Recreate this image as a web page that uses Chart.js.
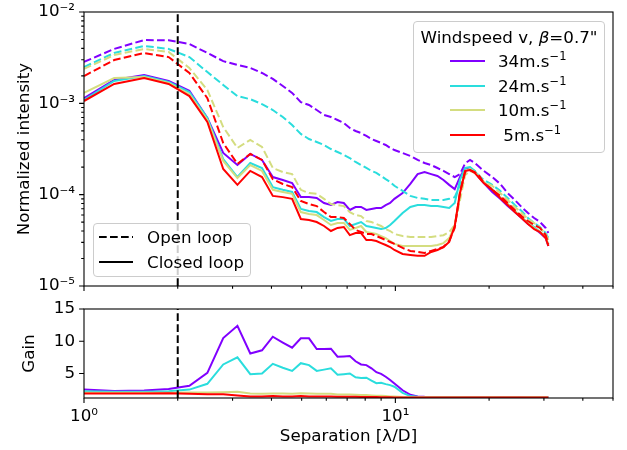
<!DOCTYPE html>
<html>
<head>
<meta charset="utf-8">
<script src="https://cdn.jsdelivr.net/npm/chart.js@4.4.0/dist/chart.umd.min.js"></script>
<style>
  body { margin: 0; background: #fff; font-family: 'DejaVu Sans', sans-serif; }
  #wrap { position: relative; width: 627px; height: 450px; overflow: hidden; }
  canvas { position: absolute; left: 0; }
  .legend { position: absolute; background: rgba(255,255,255,0.8); border: 1px solid #ccc; border-radius: 4px; box-sizing: border-box; font-size: 16.7px; color: #000; }
  .entry { position: absolute; left: 0; height: 20px; line-height: 20px; white-space: nowrap; width: 100%; }
  .entry svg { position: absolute; top: 0; }
  .entry .txt { position: absolute; top: 0; }
  sup { font-size: 11.5px; vertical-align: 7px; line-height: 0; }
</style>
</head>
<body>
<div id="wrap">
  <canvas id="intensity" width="627" height="300" style="top:0"></canvas>
  <canvas id="gain" width="627" height="155" style="top:295px"></canvas>
  <div class="legend" id="windLegend" style="left:413px; top:21px; width:192px; height:132px;">
    <div style="position:absolute; left:0; width:100%; top:5px; text-align:center; line-height:20px;">Windspeed v, <i>β</i>=0.7"</div>
  </div>
  <div class="legend" id="loopLegend" style="left:93px; top:223px; width:158px; height:54px;"></div>
</div>
<script>
// separation in lambda/D
const separation = [1.0, 1.25, 1.56, 1.87, 2.18, 2.49, 2.80, 3.11, 3.42, 3.73,
  4.04, 4.35, 4.66, 4.97, 5.28, 5.59, 5.90, 6.21, 6.52, 6.83,
  7.14, 7.45, 7.76, 8.07, 8.38, 8.69, 9.00, 9.31, 9.62, 9.93,
  10.55, 11.17, 11.79, 12.41, 13.03, 13.65, 14.27, 14.89, 15.51, 16.13,
  16.75, 17.37, 17.99, 18.61, 19.23,
  20.47, 21.71, 22.95, 24.19, 25.43, 26.67, 27.91, 29.15, 30.39, 31.0];

// open loop (dashed)
const open34 = [2.84e-3, 3.94e-3, 4.93e-3, 4.9e-3, 4.47e-3, 3.56e-3, 2.9e-3, 2.63e-3, 2.44e-3, 2.15e-3,
  1.85e-3, 1.55e-3, 1.3e-3, 1.03e-3, 9.6e-4, 8.45e-4, 7.45e-4, 7.08e-4, 6.57e-4, 6.1e-4,
  5.37e-4, 4.98e-4, 4.73e-4, 4.39e-4, 4.07e-4, 3.87e-4, 3.68e-4, 3.5e-4, 3.25e-4, 3.08e-4,
  2.86e-4, 2.65e-4, 2.4e-4, 2.22e-4, 2.11e-4, 1.96e-4, 1.82e-4, 1.68e-4, 1.56e-4, 1.68e-4,
  2.2e-4, 2.4e-4, 2.22e-4, 2.01e-4, 1.82e-4,
  1.56e-4, 1.31e-4, 1.04e-4, 8.75e-5, 7.33e-5, 6.3e-5, 5.55e-5, 5.02e-5, 4.32e-5, 3.8e-5];
const open24 = [2.5e-3, 3.56e-3, 4.25e-3, 3.94e-3, 3.21e-3, 2.2e-3, 1.59e-3, 1.2e-3, 1.11e-3, 9.8e-4,
  8.45e-4, 7.08e-4, 5.79e-4, 4.62e-4, 4.07e-4, 3.77e-4, 3.5e-4, 3.16e-4, 2.93e-4, 2.72e-4,
  2.52e-4, 2.28e-4, 2.11e-4, 1.96e-4, 1.82e-4, 1.73e-4, 1.6e-4, 1.48e-4, 1.38e-4, 1.25e-4,
  1.1e-4, 9.7e-5, 9.2e-5, 9.0e-5, 8.75e-5, 8.75e-5, 8.75e-5, 9.0e-5, 9.4e-5, 1.28e-4,
  1.77e-4, 1.91e-4, 1.82e-4, 1.6e-4, 1.45e-4,
  1.28e-4, 1.1e-4, 9.2e-5, 7.7e-5, 6.62e-5, 5.55e-5, 4.9e-5, 4.43e-5, 3.8e-5, 3.35e-5];
const open10 = [2.38e-3, 3.38e-3, 3.94e-3, 3.65e-3, 2.44e-3, 1.4e-3, 5.5e-4, 3.25e-4, 3.97e-4, 3.33e-4,
  1.96e-4, 1.77e-4, 1.68e-4, 1.13e-4, 1.04e-4, 1.02e-4, 9.0e-5, 7.9e-5, 7.7e-5, 7.5e-5,
  6.45e-5, 5.98e-5, 5.83e-5, 5.15e-5, 5.02e-5, 4.77e-5, 4.54e-5, 4.2e-5, 4.0e-5, 3.71e-5,
  3.52e-5, 3.44e-5, 3.44e-5, 3.44e-5, 3.44e-5, 3.52e-5, 3.6e-5, 3.9e-5, 4.66e-5, 8.75e-5,
  1.64e-4, 1.82e-4, 1.73e-4, 1.52e-4, 1.38e-4,
  1.25e-4, 1.04e-4, 8.75e-5, 7.33e-5, 6.3e-5, 5.42e-5, 4.9e-5, 4.32e-5, 3.71e-5, 3.19e-5];
const open5 = [1.99e-3, 2.98e-3, 3.56e-3, 3.21e-3, 2.15e-3, 1.14e-3, 3.68e-4, 2.17e-4, 2.79e-4, 2.4e-4,
  1.48e-4, 1.31e-4, 1.21e-4, 8.53e-5, 7.9e-5, 7.5e-5, 6.45e-5, 5.69e-5, 5.69e-5, 5.55e-5,
  4.77e-5, 4.11e-5, 3.9e-5, 3.71e-5, 3.71e-5, 3.52e-5, 3.35e-5, 3.19e-5, 3.03e-5, 2.89e-5,
  2.61e-5, 2.42e-5, 2.36e-5, 2.3e-5, 2.42e-5, 2.54e-5, 2.67e-5, 3.11e-5, 4.32e-5, 1.07e-4,
  1.77e-4, 1.86e-4, 1.77e-4, 1.6e-4, 1.34e-4,
  1.13e-4, 9.7e-5, 8.1e-5, 6.8e-5, 5.83e-5, 5.15e-5, 4.66e-5, 4.32e-5, 3.61e-5, 2.89e-5];

// closed loop (solid)
const closed34 = [1.14e-3, 1.8e-3, 2.04e-3, 1.76e-3, 1.37e-3, 6.9e-4, 2.86e-4, 2.11e-4, 2.79e-4, 2.4e-4,
  1.56e-4, 1.45e-4, 1.34e-4, 9.4e-5, 9.4e-5, 9.2e-5, 8.1e-5, 7.7e-5, 8.3e-5, 8.1e-5,
  6.8e-5, 7.33e-5, 7.33e-5, 6.8e-5, 6.97e-5, 7.15e-5, 7.15e-5, 7.7e-5, 8.1e-5, 9.0e-5,
  1.04e-4, 1.31e-4, 1.68e-4, 1.77e-4, 1.68e-4, 1.6e-4, 1.45e-4, 1.28e-4, 1.15e-4, 1.56e-4,
  1.96e-4, 1.96e-4, 1.77e-4, 1.52e-4, 1.34e-4,
  1.07e-4, 9.0e-5, 7.5e-5, 6.45e-5, 5.55e-5, 4.77e-5, 4.32e-5, 3.8e-5, 3.35e-5, 2.74e-5];
const closed24 = [1.09e-3, 1.76e-3, 1.99e-3, 1.71e-3, 1.33e-3, 6.9e-4, 2.45e-4, 1.56e-4, 2.22e-4, 1.96e-4,
  1.21e-4, 1.13e-4, 1.07e-4, 6.97e-5, 6.62e-5, 6.45e-5, 5.69e-5, 5.15e-5, 5.42e-5, 5.42e-5,
  4.54e-5, 4.77e-5, 5.02e-5, 4.54e-5, 4.43e-5, 4.32e-5, 4.2e-5, 4.32e-5, 4.66e-5, 5.15e-5,
  6.3e-5, 7.33e-5, 7.7e-5, 7.7e-5, 7.5e-5, 7.5e-5, 7.33e-5, 7.15e-5, 8.1e-5, 1.45e-4,
  1.96e-4, 2.01e-4, 1.82e-4, 1.56e-4, 1.38e-4,
  1.15e-4, 9.4e-5, 7.9e-5, 6.62e-5, 5.69e-5, 4.9e-5, 4.43e-5, 3.9e-5, 3.44e-5, 2.81e-5];
const closed10 = [1.3e-3, 1.89e-3, 1.94e-3, 1.67e-3, 1.26e-3, 6.57e-4, 2.34e-4, 1.52e-4, 2.11e-4, 1.82e-4,
  1.13e-4, 1.07e-4, 1.02e-4, 6.45e-5, 6.14e-5, 5.98e-5, 5.28e-5, 4.66e-5, 4.9e-5, 4.9e-5,
  4.11e-5, 4.32e-5, 4.54e-5, 3.9e-5, 3.8e-5, 3.71e-5, 3.52e-5, 3.35e-5, 3.11e-5, 2.89e-5,
  2.74e-5, 2.74e-5, 2.74e-5, 2.74e-5, 2.74e-5, 2.81e-5, 2.95e-5, 3.35e-5, 4.54e-5, 1.07e-4,
  1.82e-4, 1.91e-4, 1.77e-4, 1.56e-4, 1.38e-4,
  1.15e-4, 9.4e-5, 7.9e-5, 6.62e-5, 5.69e-5, 4.9e-5, 4.32e-5, 3.9e-5, 3.44e-5, 2.81e-5];
const closed5 = [1.06e-3, 1.63e-3, 1.89e-3, 1.63e-3, 1.2e-3, 6.25e-4, 1.91e-4, 1.28e-4, 1.82e-4, 1.56e-4,
  9.7e-5, 9.4e-5, 9.0e-5, 5.42e-5, 5.28e-5, 5.02e-5, 4.54e-5, 4.0e-5, 4.32e-5, 4.43e-5,
  3.61e-5, 3.8e-5, 3.8e-5, 3.19e-5, 3.19e-5, 3.11e-5, 2.95e-5, 2.81e-5, 2.67e-5, 2.48e-5,
  2.24e-5, 2.19e-5, 2.14e-5, 2.14e-5, 2.36e-5, 2.48e-5, 2.67e-5, 3.03e-5, 4.54e-5, 1.04e-4,
  1.82e-4, 1.86e-4, 1.73e-4, 1.52e-4, 1.34e-4,
  1.13e-4, 9.2e-5, 7.7e-5, 6.45e-5, 5.55e-5, 4.77e-5, 4.2e-5, 3.9e-5, 3.35e-5, 2.74e-5];

// gain = open / closed
const gain34 = [2.5, 2.3, 2.35, 2.6, 3.1, 5.1, 10.5, 12.4, 8.1, 8.6,
  10.7, 9.8, 9.0, 10.45, 10.45, 8.8, 8.8, 8.85, 7.6, 7.65,
  7.7, 6.9, 6.4, 6.3, 5.8, 5.2, 4.95, 4.5, 4.0, 3.45,
  2.4, 1.7, 1.45, 1.38, 1.36, 1.35, 1.35, 1.34, 1.34, 1.34,
  1.33, 1.33, 1.33, 1.33, 1.33,
  1.34, 1.34, 1.33, 1.33, 1.34, 1.34, 1.35, 1.34, 1.33, 1.33];
const gain24 = [2.25, 2.15, 2.15, 2.25, 2.5, 3.4, 6.4, 7.5, 4.9, 5.0,
  6.5, 5.9, 5.4, 6.6, 6.3, 5.4, 5.6, 5.8, 4.8, 4.9,
  5.0, 4.4, 4.3, 4.35, 3.9, 3.5, 3.55, 3.35, 3.2, 2.95,
  2.0, 1.5, 1.38, 1.36, 1.35, 1.35, 1.34, 1.34, 1.34, 1.34,
  1.33, 1.33, 1.33, 1.33, 1.33,
  1.34, 1.33, 1.33, 1.33, 1.33, 1.34, 1.34, 1.34, 1.33, 1.33];
const gain10 = [2.0, 2.0, 2.0, 2.0, 2.05, 2.05, 2.1, 2.15, 1.9, 1.85,
  1.9, 1.9, 1.85, 1.95, 1.9, 1.85, 1.85, 1.85, 1.75, 1.75,
  1.75, 1.7, 1.65, 1.65, 1.6, 1.55, 1.55, 1.5, 1.45, 1.42,
  1.35, 1.33, 1.32, 1.3, 1.3, 1.3, 1.3, 1.3, 1.3, 1.3,
  1.3, 1.3, 1.3, 1.3, 1.3,
  1.3, 1.3, 1.3, 1.3, 1.3, 1.3, 1.3, 1.3, 1.3, 1.3];
const gain5 = [1.9, 1.9, 1.9, 1.95, 1.85, 1.8, 1.8, 1.6, 1.45, 1.45,
  1.5, 1.45, 1.45, 1.5, 1.45, 1.45, 1.45, 1.45, 1.4, 1.4,
  1.38, 1.38, 1.36, 1.36, 1.35, 1.35, 1.33, 1.33, 1.3, 1.28,
  1.27, 1.27, 1.27, 1.27, 1.27, 1.27, 1.27, 1.27, 1.27, 1.27,
  1.27, 1.27, 1.27, 1.27, 1.27,
  1.27, 1.27, 1.27, 1.27, 1.27, 1.27, 1.27, 1.27, 1.27, 1.27];

const windLabels = ['34', '24', '10', '\u00a05'];
const windColors = ['#8000ff', '#2adddd', '#d4dd80', '#ff0000'];
const openSeries = [open34, open24, open10, open5];
const closedSeries = [closed34, closed24, closed10, closed5];
const gainSeries = [gain34, gain24, gain10, gain5];

const intensityDecades = [1e-5, 1e-4, 1e-3, 1e-2];
const gainTicks = [5, 10, 15];
const separationDecades = [1, 10];
const controlRadius = 2;

const FONT = { family: 'DejaVu Sans', size: 16.7 };
const DASH = [7.7, 3.3];
const supChars = { '-': '\u207b', '0': '\u2070', '1': '\u00b9', '2': '\u00b2', '3': '\u00b3', '4': '\u2074', '5': '\u2075' };

function powerLabel(v) {
  const e = String(Math.round(Math.log10(v)));
  return '10' + e.split('').map(c => supChars[c]).join('');
}

function toPoints(values) {
  return values.map((y, i) => ({ x: separation[i], y: y }));
}

function minorTicks(lo, hi) {
  const out = [];
  for (let d = lo; d < hi; d *= 10) {
    for (let k = 2; k <= 9; k++) {
      if (k * d < hi) out.push(k * d);
    }
  }
  return out;
}

// frame + outward tick marks like matplotlib
const axisMarks = {
  id: 'axisMarks',
  afterDraw(chart, args, opts) {
    const { ctx, chartArea: a, scales } = chart;
    ctx.save();
    ctx.strokeStyle = '#000';
    ctx.lineWidth = 1.1;
    ctx.beginPath();
    opts.x.forEach(([v, len]) => {
      const px = scales.x.getPixelForValue(v);
      ctx.moveTo(px, a.bottom);
      ctx.lineTo(px, a.bottom + len);
    });
    opts.y.forEach(([v, len]) => {
      const py = scales.y.getPixelForValue(v);
      ctx.moveTo(a.left, py);
      ctx.lineTo(a.left - len, py);
    });
    ctx.stroke();
    ctx.strokeRect(a.left, a.top, a.right - a.left, a.bottom - a.top);
    ctx.restore();
  }
};

const xMin = 1, xMax = 50;
const xMarks = separationDecades.map(v => [v, 4.9]).concat(minorTicks(1, xMax + 1).map(v => [v, 2.8]));

// top panel: normalized intensity
const intensityDatasets = [];
windLabels.forEach((w, i) => {
  intensityDatasets.push({
    label: w + ' open', data: toPoints(openSeries[i]),
    borderColor: windColors[i], borderWidth: 2, borderDash: DASH, pointRadius: 0, tension: 0
  });
  intensityDatasets.push({
    label: w + ' closed', data: toPoints(closedSeries[i]),
    borderColor: windColors[i], borderWidth: 2, pointRadius: 0, tension: 0
  });
});
intensityDatasets.push({
  label: 'control radius', data: [{ x: controlRadius, y: 1e-5 }, { x: controlRadius, y: 1e-2 }],
  borderColor: '#000', borderWidth: 2, borderDash: DASH, pointRadius: 0
});
intensityDatasets.reverse();

new Chart(document.getElementById('intensity'), {
  type: 'line',
  data: { datasets: intensityDatasets },
  options: {
    responsive: false,
    animation: false,
    layout: { padding: { left: 0, right: 14, top: 12, bottom: 14 } },
    plugins: {
      legend: { display: false },
      tooltip: { enabled: false },
      axisMarks: {
        x: xMarks,
        y: intensityDecades.map(v => [v, 4.9]).concat(minorTicks(1e-5, 1e-2).map(v => [v, 2.8]))
      }
    },
    scales: {
      x: {
        type: 'logarithmic', min: xMin, max: xMax,
        grid: { display: false, drawTicks: false },
        border: { display: false },
        ticks: { display: false },
        afterFit(s) { s.height = 0; s.paddingLeft = 0; s.paddingRight = 0; }
      },
      y: {
        type: 'logarithmic', min: 1e-5, max: 1e-2,
        grid: { display: false, drawTicks: false },
        border: { display: false },
        afterBuildTicks(s) { s.ticks = intensityDecades.map(v => ({ value: v })); },
        ticks: { color: '#000', font: FONT, padding: 9, autoSkip: false, callback: v => powerLabel(v) },
        title: { display: true, text: 'Normalized intensity', color: '#000', font: FONT, padding: { top: 15, bottom: 0 } },
        afterFit(s) { s.width = 84; s.paddingTop = 0; s.paddingBottom = 0; }
      }
    }
  },
  plugins: [axisMarks]
});

// bottom panel: gain
const gainDatasets = windLabels.map((w, i) => ({
  label: w, data: toPoints(gainSeries[i]),
  borderColor: windColors[i], borderWidth: 2, pointRadius: 0, tension: 0
}));
gainDatasets.push({
  label: 'control radius', data: [{ x: controlRadius, y: 1.2 }, { x: controlRadius, y: 15 }],
  borderColor: '#000', borderWidth: 2, borderDash: DASH, pointRadius: 0
});
gainDatasets.reverse();

new Chart(document.getElementById('gain'), {
  type: 'line',
  data: { datasets: gainDatasets },
  options: {
    responsive: false,
    animation: false,
    layout: { padding: { left: 0, right: 14, top: 14, bottom: 0 } },
    plugins: {
      legend: { display: false },
      tooltip: { enabled: false },
      axisMarks: { x: xMarks, y: gainTicks.map(v => [v, 4.9]) }
    },
    scales: {
      x: {
        type: 'logarithmic', min: xMin, max: xMax,
        grid: { display: false, drawTicks: false },
        border: { display: false },
        afterBuildTicks(s) { s.ticks = separationDecades.map(v => ({ value: v })); },
        ticks: { color: '#000', font: FONT, padding: 9, autoSkip: false, maxRotation: 0, callback: v => powerLabel(v) },
        title: { display: true, text: 'Separation [λ/D]', color: '#000', font: FONT, padding: { top: 0, bottom: 3 } },
        afterFit(s) { s.height = 52; s.paddingLeft = 0; s.paddingRight = 0; }
      },
      y: {
        type: 'linear', min: 1.2, max: 15,
        grid: { display: false, drawTicks: false },
        border: { display: false },
        afterBuildTicks(s) { s.ticks = gainTicks.map(v => ({ value: v })); },
        ticks: { color: '#000', font: FONT, padding: 9, autoSkip: false },
        title: { display: true, text: 'Gain', color: '#000', font: FONT, padding: { top: 20, bottom: 0 } },
        afterFit(s) { s.width = 84; s.paddingTop = 0; s.paddingBottom = 0; }
      }
    }
  },
  plugins: [axisMarks]
});

// legends
function swatch(color, dashed, left, width) {
  const dash = dashed ? ` stroke-dasharray="${DASH.join(' ')}"` : '';
  return `<svg width="${width}" height="20" style="left:${left}px"><line x1="0" y1="10" x2="${width}" y2="10" stroke="${color}" stroke-width="2"${dash}/></svg>`;
}

const windLegend = document.getElementById('windLegend');
windLabels.forEach((w, i) => {
  const row = document.createElement('div');
  row.className = 'entry';
  row.style.top = (29 + i * 24.7) + 'px';
  row.innerHTML = swatch(windColors[i], false, 36, 35) +
    `<span class="txt" style="left:84px">${w}m.s<sup>\u22121</sup></span>`;
  windLegend.appendChild(row);
});

const loopLegend = document.getElementById('loopLegend');
[['Open loop', true], ['Closed loop', false]].forEach(([name, dashed], i) => {
  const row = document.createElement('div');
  row.className = 'entry';
  row.style.top = (3 + i * 25) + 'px';
  row.innerHTML = swatch('#000', dashed, 5, 34) + `<span class="txt" style="left:53px">${name}</span>`;
  loopLegend.appendChild(row);
});
</script>
</body>
</html>
